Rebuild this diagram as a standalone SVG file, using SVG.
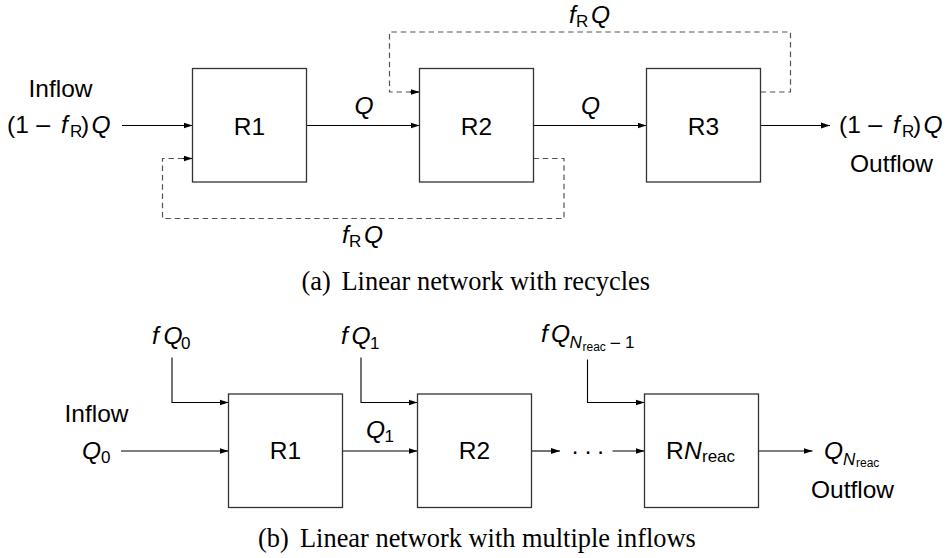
<svg xmlns="http://www.w3.org/2000/svg" width="949" height="558" viewBox="0 0 949 558">
<style>
.box{fill:#fff;stroke:#333;stroke-width:1.3}
.ln{fill:none;stroke:#000;stroke-width:1.1}
.dl{fill:none;stroke:#555;stroke-width:1.2;stroke-dasharray:5.5 3.8}
text{font-family:"Liberation Sans",Arial,sans-serif;font-size:24.5px;fill:#000}
.i{font-style:italic}
.s{font-size:17px}
.ss{font-size:12px}
.mn{font-family:"DejaVu Sans",sans-serif;font-size:22px}
.mns{font-family:"DejaVu Sans",sans-serif;font-size:15px}
.cap{font-family:"Liberation Serif","Times New Roman",serif;font-size:26.4px}
.m{text-anchor:middle}
</style>
<defs>
<marker id="ah" markerUnits="userSpaceOnUse" markerWidth="10" markerHeight="8" refX="9" refY="3.5" orient="auto">
<path d="M0,0.5 L9,3.5 L0,6.5 z" fill="#000"/>
</marker>
</defs>

<g id="connectors">
<path class="ln" d="M122,125.5 H192.5" marker-end="url(#ah)"/>
<path class="ln" d="M306.5,125.5 H419.5" marker-end="url(#ah)"/>
<path class="ln" d="M533.5,125.5 H646.5" marker-end="url(#ah)"/>
<path class="ln" d="M760.5,125.5 H830" marker-end="url(#ah)"/>
<path class="dl" d="M533.5,158.5 H564 V218.5 H162.5 V158.5 H183.5"/>
<path class="ln" d="M183,158.5 H192.5" stroke="none" marker-end="url(#ah)"/>
<path class="dl" d="M760.5,92 H790.5 V32 H389.5 V92 H410.5"/>
<path class="ln" d="M410,92 H419.5" stroke="none" marker-end="url(#ah)"/>
<path class="ln" d="M121,451 H228.5" marker-end="url(#ah)"/>
<path class="ln" d="M342.5,451 H417.5" marker-end="url(#ah)"/>
<path class="ln" d="M531.5,451 H560" marker-end="url(#ah)"/>
<path class="ln" d="M612.5,451 H644.5" marker-end="url(#ah)"/>
<path class="ln" d="M758.5,451 H812.5" marker-end="url(#ah)"/>
<path class="ln" d="M172,357.5 V402.5 H228.5" marker-end="url(#ah)"/>
<path class="ln" d="M361,357.5 V402.5 H417.5" marker-end="url(#ah)"/>
<path class="ln" d="M587.5,359.5 V402.5 H644.5" marker-end="url(#ah)"/>
</g>

<g id="R1a"><rect class="box" x="192.5" y="68.5" width="114" height="113.5"/><text class="m" x="249.5" y="135">R1</text></g>
<g id="R2a"><rect class="box" x="419.5" y="68.5" width="114" height="113.5"/><text class="m" x="476.5" y="135">R2</text></g>
<g id="R3a"><rect class="box" x="646.5" y="68.5" width="114" height="113.5"/><text class="m" x="703.5" y="135">R3</text></g>

<g id="labels-a">
<text class="m" x="60.5" y="97">Inflow</text>
<text y="133"><tspan x="7">(1</tspan><tspan x="34" class="mn">−</tspan><tspan x="61" class="i">f</tspan><tspan x="70" y="137" class="s">R</tspan><tspan x="81" y="133">)</tspan><tspan x="91.5" class="i">Q</tspan></text>
<text y="133"><tspan x="839">(1</tspan><tspan x="866" class="mn">−</tspan><tspan x="893" class="i">f</tspan><tspan x="902" y="137" class="s">R</tspan><tspan x="913" y="133">)</tspan><tspan x="923.5" class="i">Q</tspan></text>
<text class="m" x="891.5" y="172">Outflow</text>
<text class="i" x="354.5" y="114">Q</text>
<text class="i" x="581" y="114">Q</text>
<text y="23"><tspan x="569" class="i">f</tspan><tspan x="576" y="27" class="s">R</tspan><tspan x="591" y="23" class="i">Q</tspan></text>
<text y="243"><tspan x="342" class="i">f</tspan><tspan x="349" y="247" class="s">R</tspan><tspan x="364" y="243" class="i">Q</tspan></text>
<text class="cap" y="290"><tspan x="301.5">(a)</tspan><tspan x="341.5">Linear network with recycles</tspan></text>
</g>

<g id="R1b"><rect class="box" x="228.5" y="394" width="114" height="113.5"/><text class="m" x="285.5" y="459">R1</text></g>
<g id="R2b"><rect class="box" x="417.5" y="394" width="114" height="113.5"/><text class="m" x="474.5" y="459">R2</text></g>
<g id="RNb"><rect class="box" x="644.5" y="394" width="114" height="113.5"/><text y="459"><tspan x="666">R</tspan><tspan x="684" class="i">N</tspan><tspan x="702" y="462" class="s">reac</tspan></text></g>

<g id="labels-b">
<text class="m" x="96.5" y="421.5">Inflow</text>
<text y="459"><tspan x="82" class="i">Q</tspan><tspan x="101" y="463" class="s">0</tspan></text>
<text y="344"><tspan x="152" class="i">f</tspan><tspan x="163.5" class="i">Q</tspan><tspan x="181" y="348.5" class="s">0</tspan></text>
<text y="344"><tspan x="341" class="i">f</tspan><tspan x="351.5" class="i">Q</tspan><tspan x="370" y="348.5" class="s">1</tspan></text>
<text y="438"><tspan x="366" class="i">Q</tspan><tspan x="384.5" y="442" class="s">1</tspan></text>
<text y="342"><tspan x="541" class="i">f</tspan><tspan x="551" class="i">Q</tspan><tspan x="569.5" y="348" class="s i">N</tspan><tspan x="582.5" y="350.5" class="ss">reac</tspan><tspan x="609" y="348" class="mns">−</tspan><tspan x="625" y="348" class="s">1</tspan></text>
<text class="m" y="459" x="575 588 600.5">···</text>
<text y="459"><tspan x="824" class="i">Q</tspan><tspan x="843" y="465" class="s i">N</tspan><tspan x="856" y="467" class="ss">reac</tspan></text>
<text class="m" x="852.5" y="497.5">Outflow</text>
<text class="cap" y="546.5"><tspan x="258">(b)</tspan><tspan x="300">Linear network with multiple inflows</tspan></text>
</g>
</svg>
